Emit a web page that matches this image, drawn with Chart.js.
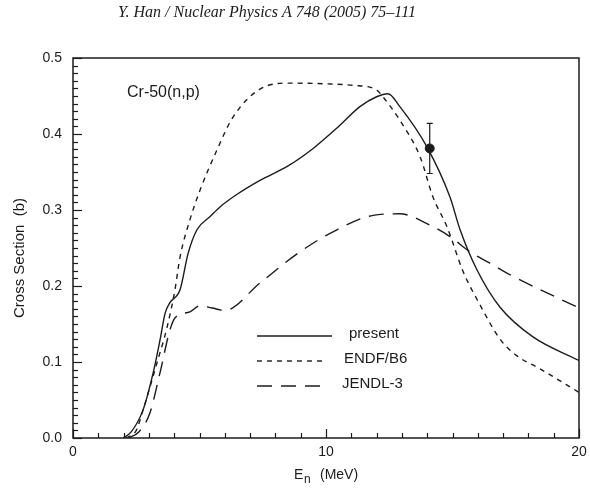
<!DOCTYPE html>
<html>
<head>
<meta charset="utf-8">
<script src="https://cdn.jsdelivr.net/npm/chart.js@4.4.1/dist/chart.umd.min.js"></script>
<style>
  html, body { margin: 0; padding: 0; background: #fff; }
  #wrap { width: 590px; height: 488px; }
</style>
</head>
<body>
<div id="wrap"><canvas id="xsChart" width="590" height="488"></canvas></div>
<script>
// values
const presentE  = [1.98, 2.3, 2.77, 3.17, 3.44, 3.64, 3.83, 4.23, 4.55, 4.9, 5.41, 5.81, 6.5, 7.39, 8.5, 9.49, 10.5, 11.34, 12.0, 12.45, 12.92, 13.99, 14.9, 15.3, 15.97, 16.88, 18.18, 20];
const presentXS = [0, 0.008, 0.037, 0.086, 0.129, 0.164, 0.178, 0.195, 0.243, 0.274, 0.291, 0.304, 0.321, 0.339, 0.358, 0.381, 0.41, 0.436, 0.449, 0.453, 0.436, 0.383, 0.317, 0.274, 0.221, 0.172, 0.133, 0.102];

const endfE  = [2.1, 2.5, 2.77, 3.32, 3.72, 4.03, 4.23, 4.62, 5.02, 5.69, 6.32, 7.39, 8.58, 10.0, 11.07, 12.0, 12.25, 12.92, 13.72, 14.23, 14.78, 15.42, 16.09, 16.88, 17.55, 18.46, 20];
const endfXS = [0, 0.01, 0.037, 0.099, 0.146, 0.195, 0.238, 0.287, 0.326, 0.379, 0.422, 0.459, 0.467, 0.466, 0.464, 0.458, 0.449, 0.418, 0.370, 0.317, 0.278, 0.219, 0.175, 0.130, 0.108, 0.091, 0.060];

const jendlE  = [2.2, 2.6, 3.04, 3.44, 3.83, 4.03, 4.62, 5.02, 5.5, 6.0, 7.39, 8.97, 10.43, 11.86, 12.92, 14.11, 14.9, 15.69, 16.48, 17.15, 20];
const jendlXS = [0, 0.008, 0.033, 0.086, 0.142, 0.158, 0.166, 0.174, 0.171, 0.168, 0.204, 0.245, 0.274, 0.293, 0.295, 0.280, 0.265, 0.245, 0.230, 0.217, 0.171];

const expE   = [14.1];
const expXS  = [0.381];
const expErr = [0.033];

const yTicks = [0, 0.1, 0.2, 0.3, 0.4, 0.5];
const xTicks = [0, 10, 20];
const legendNames = ["present", "ENDF/B6", "JENDL-3"];

const ink = "#1c1c1c";
const sans = "'Liberation Sans', Arial, sans-serif";
const zip = (xs, ys) => xs.map((x, i) => ({ x: x, y: ys[i] }));

// frame, inner ticks, error bar, legend, labels
const decorPlugin = {
    id: "decor",
    afterDraw(chart) {
        const ctx = chart.ctx;
        const a = chart.chartArea;
        const xs = chart.scales.x, ys = chart.scales.y;
        ctx.save();
        ctx.strokeStyle = ink;
        ctx.fillStyle = ink;

        // frame
        ctx.lineWidth = 1.5;
        ctx.setLineDash([]);
        ctx.strokeRect(a.left, a.top, a.right - a.left, a.bottom - a.top);

        // y ticks every 0.01, long at 0.1
        ctx.lineWidth = 1.2;
        for (let i = 0; i <= 50; i++) {
            const py = Math.round(ys.getPixelForValue(i / 100)) + 0.5;
            const len = (i % 10 === 0) ? 9 : 5;
            ctx.beginPath();
            ctx.moveTo(a.left, py);
            ctx.lineTo(a.left + len, py);
            ctx.stroke();
        }
        // x ticks every 1 MeV, long at 10
        for (let i = 0; i <= 20; i++) {
            const px = Math.round(xs.getPixelForValue(i)) + 0.5;
            const len = (i % 10 === 0) ? 9 : 5;
            ctx.beginPath();
            ctx.moveTo(px, a.bottom);
            ctx.lineTo(px, a.bottom - len);
            ctx.stroke();
        }

        // error bars
        ctx.lineWidth = 1.2;
        expE.forEach((e, i) => {
            const px = xs.getPixelForValue(e);
            const top = ys.getPixelForValue(expXS[i] + expErr[i]);
            const bot = ys.getPixelForValue(expXS[i] - expErr[i]);
            ctx.beginPath();
            ctx.moveTo(px, top); ctx.lineTo(px, bot);
            ctx.moveTo(px - 3, top); ctx.lineTo(px + 3, top);
            ctx.moveTo(px - 3, bot); ctx.lineTo(px + 3, bot);
            ctx.stroke();
        });

        // legend
        const dashes = [[], [5, 5], [15, 9]];
        ctx.font = "15px " + sans;
        ctx.textBaseline = "middle";
        ctx.textAlign = "left";
        legendNames.forEach((name, i) => {
            const ly = a.top + 278 + i * 25;
            ctx.lineWidth = 1.4;
            ctx.setLineDash(dashes[i]);
            ctx.beginPath();
            ctx.moveTo(a.left + 184, ly);
            ctx.lineTo(a.left + (i === 0 ? 259 : 254), ly);
            ctx.stroke();
            ctx.setLineDash([]);
            ctx.fillText(name, a.left + [276, 271, 269][i], ly - 2);
        });

        // reaction label
        ctx.font = "16px " + sans;
        ctx.fillText("Cr-50(n,p)", a.left + 54, a.top + 35);

        // page header
        ctx.font = "italic 16px 'Liberation Serif', 'Times New Roman', serif";
        ctx.textAlign = "center";
        ctx.fillText("Y. Han / Nuclear Physics A 748 (2005) 75\u2013111", 267, 13);

        // x axis title with subscript
        ctx.textAlign = "left";
        ctx.textBaseline = "alphabetic";
        ctx.font = "14px " + sans;
        ctx.fillText("E", 294, 479);
        ctx.font = "12px " + sans;
        ctx.fillText("n", 304, 483);
        ctx.font = "14px " + sans;
        ctx.fillText("(MeV)", 320, 479);

        // y axis title
        ctx.translate(20, 258);
        ctx.rotate(-Math.PI / 2);
        ctx.textAlign = "center";
        ctx.textBaseline = "middle";
        ctx.font = "15px " + sans;
        ctx.fillText("Cross Section  (b)", 0, 0);
        ctx.restore();
    }
};

const lineStyle = {
    showLine: true,
    pointRadius: 0,
    borderColor: ink,
    borderWidth: 1.4,
    fill: false,
    cubicInterpolationMode: "monotone"
};

const xsChart = new Chart(document.getElementById("xsChart").getContext("2d"), {
    type: "scatter",
    data: {
        datasets: [
            { ...lineStyle, label: legendNames[0], data: zip(presentE, presentXS) },
            { ...lineStyle, label: legendNames[1], data: zip(endfE, endfXS), borderDash: [5, 5] },
            { ...lineStyle, label: legendNames[2], data: zip(jendlE, jendlXS), borderDash: [15, 9] },
            {
                label: "exp",
                data: zip(expE, expXS),
                showLine: false,
                pointRadius: 4.5,
                pointBackgroundColor: ink,
                pointBorderColor: ink
            }
        ]
    },
    options: {
        responsive: false,
        animation: false,
        devicePixelRatio: 1,
        layout: { padding: { top: 58, right: 11, left: 0, bottom: 0 } },
        plugins: {
            legend: { display: false },
            tooltip: { enabled: false }
        },
        scales: {
            x: {
                type: "linear",
                min: 0, max: 20,
                afterFit: s => { s.height = 50; s.paddingLeft = 0; s.paddingRight = 0; },
                afterBuildTicks: s => { s.ticks = xTicks.map(v => ({ value: v })); },
                grid: { display: false, drawTicks: false },
                border: { display: false },
                ticks: {
                    padding: 6,
                    color: ink,
                    font: { family: sans, size: 14 },
                    maxRotation: 0
                }
            },
            y: {
                type: "linear",
                min: 0, max: 0.5,
                afterFit: s => { s.width = 73; s.paddingTop = 0; s.paddingBottom = 0; },
                afterBuildTicks: s => { s.ticks = yTicks.map(v => ({ value: v })); },
                grid: { display: false, drawTicks: false },
                border: { display: false },
                ticks: {
                    padding: 11,
                    color: ink,
                    font: { family: sans, size: 14 },
                    callback: v => v.toFixed(1)
                }
            }
        }
    },
    plugins: [decorPlugin]
});
</script>
</body>
</html>
